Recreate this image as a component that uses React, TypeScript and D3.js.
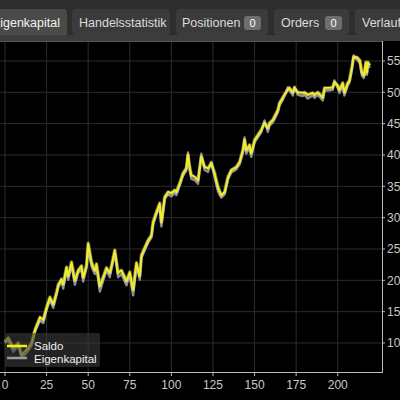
import React from "react";
import * as d3 from "d3";

const tabs = ["Eigenkapital", "Handelsstatistik", "Positionen", "Orders", "Verlauf"];
const tabBadges = [null, null, "0", "0", null];

const xTicks = [0, 25, 50, 75, 100, 125, 150, 175, 200];
const yTicks = [10, 15, 20, 25, 30, 35, 40, 45, 50, 55];
const yTickLabels = ["10", "15", "20", "25", "30", "35", "40", "45", "50", "55"];

const seriesNames = ["Saldo", "Eigenkapital"];

const trade = [0, 2, 5, 8, 10, 13, 16, 18, 21, 23, 25, 27, 29, 31, 32, 34, 35, 37, 38, 40, 42, 44, 46, 47, 49, 50, 52, 54, 55, 57, 59, 61, 63, 64, 66, 68, 70, 72, 73, 75, 77, 79, 81, 82, 84, 86, 88, 89, 91, 93, 94, 96, 98, 100, 102, 103, 105, 107, 109, 110, 111, 112, 114, 116, 118, 120, 122, 124, 126, 128, 130, 132, 134, 136, 139, 141, 143, 144, 145, 147, 148, 149, 150, 152, 154, 156, 158, 159, 161, 164, 165, 167, 170, 171, 173, 174, 176, 179, 180, 182, 185, 186, 188, 191, 192, 195, 197, 198, 200, 201, 203, 204, 206, 207, 208.5, 209.5, 211.5, 213.3, 214.5, 215.7, 216.9, 217.5, 218.1, 219.3];

const saldo = [10.2, 10.8, 9.2, 10.0, 8.1, 8.9, 10.0, 12.1, 14.1, 13.7, 15.7, 17.3, 16.2, 18.1, 19.3, 20.2, 19.4, 22.1, 20.7, 22.9, 20.0, 21.6, 22.3, 20.5, 22.4, 25.9, 22.9, 21.6, 22.6, 19.1, 20.5, 22.0, 21.2, 22.3, 24.8, 21.2, 21.6, 20.5, 19.9, 21.3, 18.5, 22.8, 20.7, 24.0, 25.2, 26.4, 27.2, 29.3, 30.9, 32.3, 29.3, 33.3, 34.1, 33.9, 34.4, 34.1, 35.5, 37.1, 37.9, 40.0, 38.1, 36.8, 36.5, 36.0, 39.7, 38.1, 37.9, 38.7, 37.1, 34.9, 33.6, 34.1, 36.5, 37.6, 38.1, 38.9, 40.8, 42.4, 40.8, 41.6, 40.3, 41.3, 42.4, 43.2, 44.0, 45.1, 44.3, 45.1, 45.6, 47.2, 48.3, 49.2, 50.4, 50.7, 50.0, 50.7, 50.0, 49.9, 50.0, 49.6, 49.9, 49.6, 50.0, 49.2, 50.7, 50.7, 50.8, 51.6, 51.1, 50.4, 51.5, 50.0, 51.5, 51.9, 54.0, 55.6, 55.6, 55.1, 53.2, 52.7, 54.8, 53.2, 54.8, 54.3];

const eigenkapital = [10.0, 10.4, 8.6, 9.6, 7.6, 8.4, 9.6, 11.8, 13.6, 13.2, 15.3, 16.9, 15.6, 17.7, 18.9, 19.8, 18.7, 21.8, 20.1, 22.5, 19.3, 21.2, 21.7, 19.8, 22.0, 25.4, 22.2, 21.0, 22.2, 18.2, 20.0, 21.6, 20.5, 21.9, 24.4, 20.5, 21.0, 19.8, 19.2, 20.9, 17.6, 22.4, 20.1, 23.6, 24.8, 26.0, 26.8, 28.9, 30.5, 31.8, 28.6, 33.0, 33.7, 33.4, 34.0, 33.6, 35.1, 36.7, 37.5, 40.4, 37.6, 36.2, 36.0, 35.4, 40.2, 37.6, 37.3, 38.9, 36.5, 34.2, 33.2, 33.7, 36.1, 37.2, 37.7, 38.5, 40.4, 42.8, 40.2, 41.2, 39.7, 40.9, 42.0, 42.8, 43.6, 45.5, 43.7, 44.7, 45.2, 46.8, 47.9, 48.8, 50.8, 50.3, 49.5, 50.9, 49.6, 49.4, 49.6, 49.0, 49.5, 49.1, 49.6, 48.7, 50.3, 50.3, 50.4, 51.9, 50.7, 49.9, 51.1, 49.5, 51.1, 51.5, 53.6, 55.9, 55.2, 54.7, 52.7, 52.3, 54.4, 52.8, 54.5, 53.9];

const W = 400;
const H = 400;
const plot = { left: 0, top: 42, right: 382, bottom: 372 };

export default function App() {
  const x = d3.scaleLinear().domain([-3, 226.6]).range([plot.left, plot.right]);
  const y = d3.scaleLinear().domain([5.37, 58.03]).range([plot.bottom, plot.top]);

  const line = d3
    .line<number>()
    .x((_, i) => x(trade[i]))
    .y((d) => y(d))
    .curve(d3.curveLinear);

  const font = "'Liberation Sans', Arial, sans-serif";

  const tabBoxes = [
    { x0: -10, x1: 67 },
    { x0: 72, x1: 170 },
    { x0: 176, x1: 268 },
    { x0: 274, x1: 349 },
    { x0: 355, x1: 440 },
  ];
  const tabTextX = [60, 79, 182, 281, 362];

  return (
    <svg
      width={W}
      height={H}
      style={{ position: "fixed", left: 0, top: 0, background: "#000" }}
      fontFamily={font}
    >
      <rect x={0} y={0} width={W} height={40} fill="#2e2e2e" />
      {tabs.map((t, i) => {
        const b = tabBoxes[i];
        const active = i === 0;
        return (
          <g key={t}>
            <rect
              x={b.x0}
              y={9}
              width={b.x1 - b.x0}
              height={active ? 31 : 26}
              rx={4}
              fill={active ? "#4a4a4a" : "#3b3b3b"}
            />
            <text
              x={tabTextX[i]}
              y={27}
              fontSize={12.5}
              fill={active ? "#f2f2f2" : "#dcdcdc"}
              textAnchor={active ? "end" : "start"}
            >
              {t}
            </text>
          </g>
        );
      })}
      {tabBadges.map((bd, i) => {
        if (!bd) return null;
        const bx = i === 2 ? 244 : 325;
        return (
          <g key={"b" + i}>
            <rect x={bx} y={16} width={17} height={14} rx={3} fill="#6e6e6e" />
            <text x={bx + 8.5} y={27} fontSize={11} fill="#fff" textAnchor="middle">
              {bd}
            </text>
          </g>
        );
      })}
      <rect x={0} y={35} width={W} height={6} fill="#3c3c3c" />
      <rect x={0} y={plot.top - 1} width={plot.right} height={1} fill="#555" />

      {xTicks.map((t) => (
        <line key={"gx" + t} x1={x(t)} x2={x(t)} y1={plot.top} y2={plot.bottom} stroke="#2c2c2c" strokeWidth={1} />
      ))}
      {yTicks.map((t) => (
        <line key={"gy" + t} x1={plot.left} x2={plot.right} y1={y(t)} y2={y(t)} stroke="#2c2c2c" strokeWidth={1} />
      ))}

      <path d={line(eigenkapital) || ""} fill="none" stroke="#8f8f8f" strokeWidth={2.4} strokeLinejoin="round" />
      <path d={line(saldo) || ""} fill="none" stroke="#fffcc0" strokeOpacity={0.45} strokeWidth={3.5} strokeLinejoin="round" />
      <path d={line(saldo) || ""} fill="none" stroke="#f4ee1a" strokeWidth={1.8} strokeLinejoin="round" />

      <line x1={plot.left} x2={plot.right + 1} y1={plot.bottom + 0.5} y2={plot.bottom + 0.5} stroke="#bbb" strokeWidth={1} />
      <line x1={plot.right + 0.5} x2={plot.right + 0.5} y1={plot.top - 1} y2={plot.bottom + 1} stroke="#bbb" strokeWidth={1} />
      {xTicks.map((t) => (
        <g key={"xt" + t}>
          <line x1={x(t)} x2={x(t)} y1={plot.bottom} y2={plot.bottom + 4} stroke="#bbb" />
          <text x={x(t)} y={389} fontSize={12} fill="#c8c8c8" textAnchor="middle">
            {t}
          </text>
        </g>
      ))}
      {yTicks.map((t, i) => (
        <g key={"yt" + t}>
          <line x1={plot.right} x2={plot.right + 3} y1={y(t)} y2={y(t)} stroke="#bbb" />
          <text x={plot.right + 5} y={y(t) + 4.5} fontSize={12} fill="#c8c8c8">
            {yTickLabels[i]}
          </text>
        </g>
      ))}

      <rect x={5} y={333} width={95} height={34} rx={2} fill="#3a3a3a" fillOpacity={0.6} />
      <line x1={7} x2={27} y1={346} y2={346} stroke="#f4ee1a" strokeWidth={2.5} />
      <line x1={7} x2={27} y1={358} y2={358} stroke="#9a9a9a" strokeWidth={2.5} />
      <text x={34} y={350} fontSize={11.5} fill="#f0f0f0">
        {seriesNames[0]}
      </text>
      <text x={34} y={363} fontSize={11.5} fill="#f0f0f0">
        {seriesNames[1]}
      </text>
    </svg>
  );
}
